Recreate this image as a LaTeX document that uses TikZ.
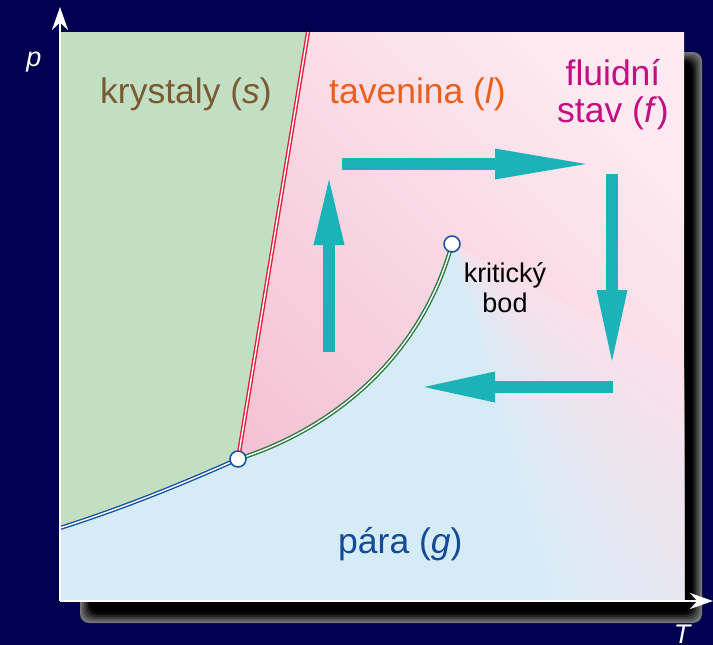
\documentclass[tikz,border=0pt]{standalone}
\usepackage{fontspec}
\setmainfont{Liberation Sans}
\usepackage{xcolor}
\usetikzlibrary{arrows.meta,calc}

\definecolor{navy}{RGB}{0,0,80}
\definecolor{solidg}{RGB}{195,223,195}
\definecolor{vapb}{RGB}{213,236,247}
\definecolor{liqs}{RGB}{244,193,211}
\definecolor{liql}{RGB}{253,234,241}
\definecolor{meltr}{RGB}{225,30,60}
\definecolor{sublb}{RGB}{20,80,160}
\definecolor{vapg}{RGB}{40,120,60}
\definecolor{cyc}{RGB}{27,178,184}
\definecolor{brownl}{RGB}{122,90,50}
\definecolor{orangel}{RGB}{235,95,25}
\definecolor{magl}{RGB}{195,15,130}
\definecolor{bluel}{RGB}{20,75,150}
\colorlet{liqm}{liql!75!liqs}

\begin{document}
\begin{tikzpicture}[x=1pt,y=-1pt,
  lbl/.style={inner sep=0pt,font=\fontsize{35.5}{37}\selectfont},
  cycarrow/.style={draw=cyc,line width=12pt,-{Triangle[length=#1,width=27pt]}},
  cycarrow/.default=72pt,
  pline/.style={draw=#1,line width=1.4pt,double=white,double distance=1.4pt},
  phasept/.style={circle,draw=sublb,fill=white,line width=1.5pt,minimum size=16pt,inner sep=0pt}]
  % background and shadow
  \fill[navy] (0,0) rectangle (713,645);
  \useasboundingbox (0,0) rectangle (713,645);
  \foreach \i/\c in {0/55,1/65,2/75,3/85,4/95,5/100}
    \fill[black!\c,rounded corners=9pt] ({80+2*\i},{52+2*\i}) rectangle ({702-2*\i},{623-2*\i});
  % points of the diagram
  \coordinate (mtop) at (308,32);
  \coordinate (tp) at (238,459);
  \coordinate (cp) at (452,244);
  \coordinate (sl) at (60,528);
  % phase areas
  \fill[vapb] (60,32) rectangle (684,601);
  \fill[solidg] (60,32) -- (mtop) -- (tp) .. controls (180,485) and (120,509) .. (sl) -- cycle;
  \shade[top color=liql,bottom color=liqs,shading angle=-45]
    (mtop) -- (684,32) -- (684,601) -- (452,601) -- (cp)
    .. controls (420,360) and (330,430) .. (tp) -- cycle;
  % fluid state fading into vapour
  \begin{scope}
    \clip (60,32) rectangle (684,601);
    \foreach \a in {28,30,...,76} {
      \pgfmathtruncatemacro\p{min(100,100*((\a-25)/51)^1.3)}
      \fill[vapb!\p!liqm] (cp) -- +(90:800) -- +(\a:800) -- cycle;
    }
  \end{scope}
  % coexistence lines
  \draw[pline=meltr] (tp) -- (mtop);
  \draw[pline=sublb] (sl) .. controls (120,509) and (180,485) .. (tp);
  \draw[pline=vapg] (tp) .. controls (330,430) and (420,360) .. (cp);
  \node[phasept] (tpt) at (tp) {};
  \node[phasept] (cpt) at (cp) {};
  % axes
  \coordinate (org) at (60,601);
  \coordinate (ptip) at (60,7);
  \coordinate (ttip) at (713,601);
  \draw[white,line width=2.5pt,-{Stealth[length=23pt,width=16pt]}] (org) -- (ptip);
  \draw[white,line width=2.5pt,-{Stealth[length=23pt,width=16pt]}] (org) -- (ttip);
  \node[text=white,inner sep=0pt,anchor=base,font=\fontsize{27}{30}\selectfont\itshape] (plab) at (34,66) {p};
  \node[text=white,inner sep=0pt,anchor=base,font=\fontsize{27}{30}\selectfont\itshape] (tlab) at (682,643) {T};
  % labels
  \node[lbl,text=brownl,anchor=base west] (solid) at (100,103) {krystaly (\textit{s})};
  \node[lbl,text=orangel,anchor=base west] (liquid) at (329,103) {tavenina (\textit{l})};
  \node[lbl,text=magl,align=center,anchor=north] (fluid) at (613,59) {fluidní\\stav (\textit{f})};
  \node[lbl,text=bluel,anchor=base west] (vapour) at (338,553) {pára (\textit{g})};
  \node[inner sep=0pt,align=center,anchor=north,font=\fontsize{27}{30}\selectfont] (crit) at (505,262) {kritický\\bod};
  % cycle round the critical point
  \coordinate (a1) at (329,352); \coordinate (a2) at (329,173);
  \coordinate (b1) at (342,164); \coordinate (b2) at (595,164);
  \coordinate (c1) at (612,174); \coordinate (c2) at (612,368);
  \coordinate (d1) at (613,387); \coordinate (d2) at (417,387);
  \draw[cycarrow] (a1) -- (a2);
  \draw[cycarrow=100pt] (b1) -- (b2);
  \draw[cycarrow=78pt] (c1) -- (c2);
  \draw[cycarrow=78pt] (d1) -- (d2);
\end{tikzpicture}
\end{document}
